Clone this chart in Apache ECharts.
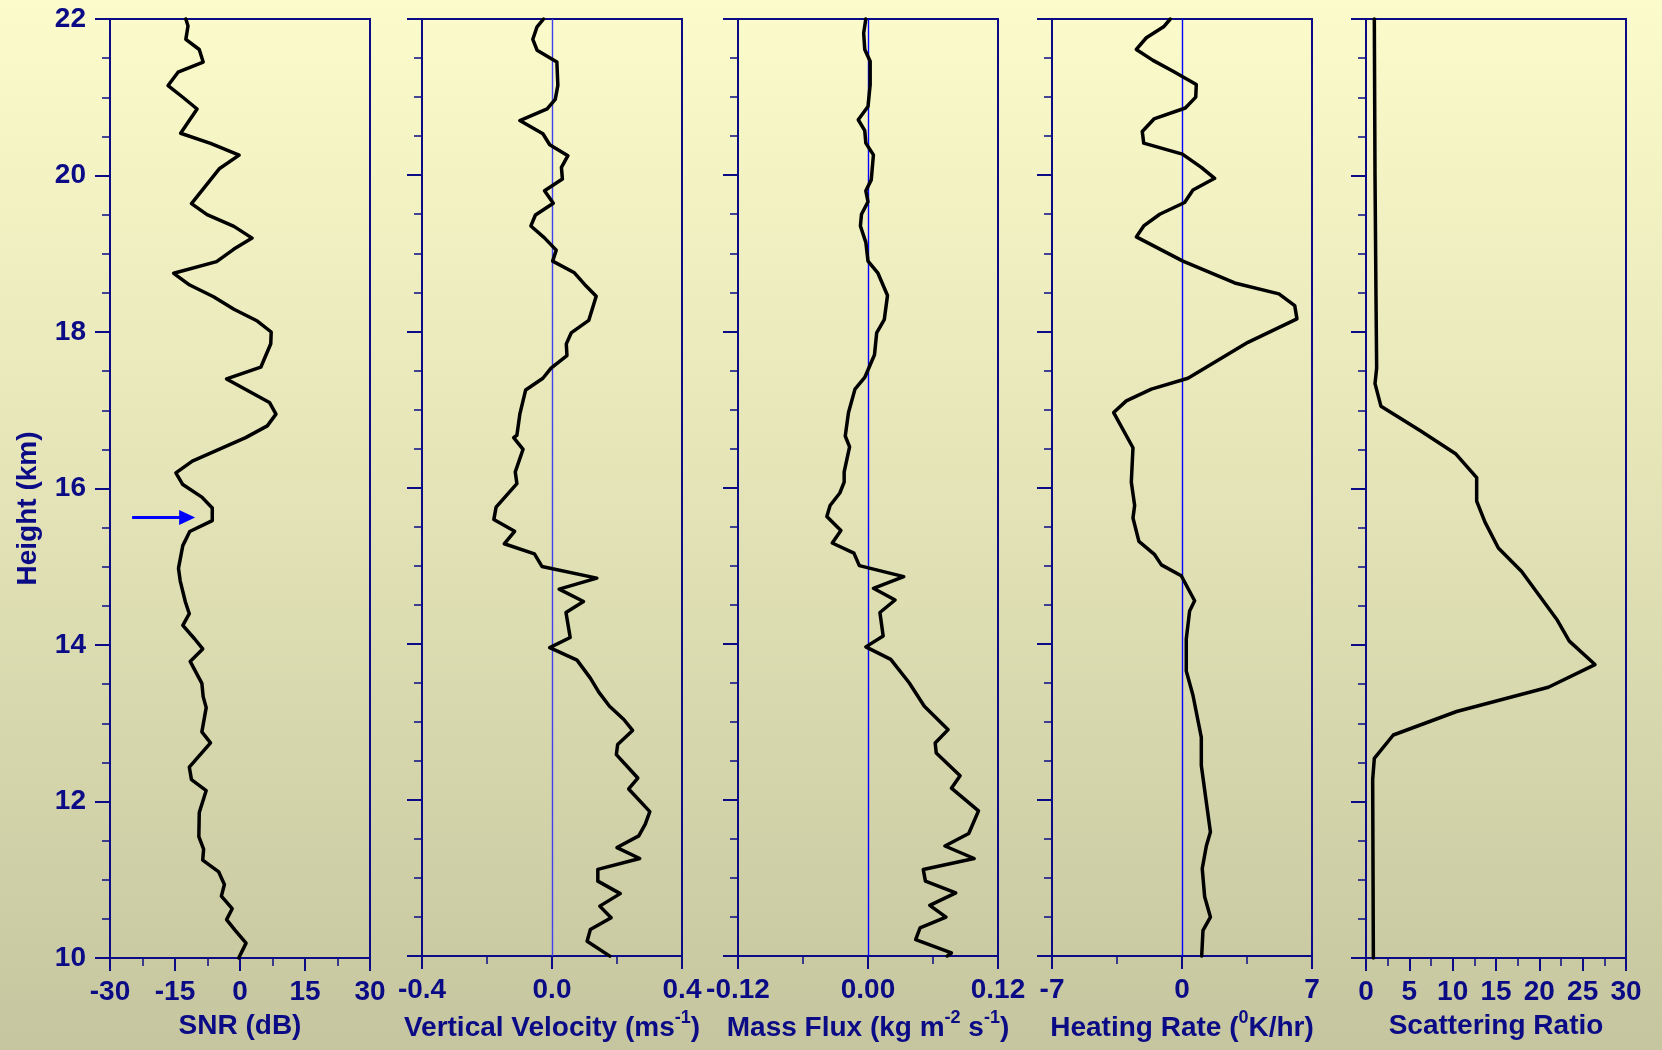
<!DOCTYPE html>
<html>
<head>
<meta charset="utf-8">
<script src="https://cdn.jsdelivr.net/npm/echarts@6/dist/echarts.min.js"></script>
<style>
  html, body { margin: 0; padding: 0; }
  #chart { width: 1662px; height: 1050px; }
</style>
</head>
<body>
<div id="chart"></div>
<script>
// Vertical profiles, 10-22 km

const snrHeight = [22.00,21.91,21.74,21.61,21.45,21.32,21.15,21.00,20.85,20.54,20.41,20.26,20.09,19.64,19.50,19.35,19.20,19.06,18.90,18.75,18.60,18.45,18.29,18.14,18.00,17.85,17.55,17.40,17.10,16.95,16.80,16.65,16.35,16.20,16.05,15.89,15.75,15.59,15.45,15.27,14.98,14.82,14.55,14.40,14.25,14.08,13.95,13.79,13.51,13.34,13.20,12.89,12.75,12.44,12.28,12.14,11.86,11.55,11.39,11.25,11.10,10.94,10.79,10.63,10.49,10.36,10.19,10.00];
const snrValue  = [-12.5,-12.0,-12.5,-9.4,-8.5,-14.3,-16.6,-13.2,-9.9,-13.7,-6.8,-0.2,-4.7,-11.2,-7.6,-1.4,2.8,-1.4,-5.4,-15.3,-11.6,-6.1,-1.4,4.0,7.2,7.1,4.8,-3.1,6.8,8.3,6.3,1.3,-11.0,-14.8,-13.2,-8.8,-6.4,-6.4,-11.6,-13.2,-14.2,-13.8,-12.6,-11.7,-13.2,-10.5,-8.6,-11.5,-8.8,-8.5,-7.8,-8.8,-6.8,-11.7,-11.2,-7.8,-9.4,-9.5,-8.4,-8.6,-4.9,-3.6,-4.3,-1.8,-3.1,-1.2,1.4,-0.3];

const vvHeight = [22.00,21.90,21.74,21.60,21.45,21.15,20.97,20.85,20.70,20.53,20.39,20.25,20.10,19.95,19.80,19.64,19.49,19.35,19.20,19.04,18.90,18.75,18.58,18.45,18.14,17.98,17.84,17.69,17.53,17.40,17.25,16.94,16.67,16.64,16.49,16.20,16.05,15.75,15.59,15.44,15.28,15.15,14.99,14.84,14.70,14.54,14.40,14.08,13.95,13.79,13.56,13.38,13.20,13.03,12.89,12.71,12.58,12.28,12.14,11.85,11.69,11.54,11.39,11.25,11.11,10.96,10.80,10.64,10.49,10.34,10.19,10.00];
const vvValue  = [-0.026,-0.046,-0.059,-0.046,0.015,0.018,0.010,-0.015,-0.099,-0.028,-0.007,0.049,0.029,0.032,-0.023,0.004,-0.051,-0.065,-0.024,0.013,0.002,0.069,0.105,0.136,0.113,0.059,0.044,0.046,-0.003,-0.028,-0.081,-0.099,-0.108,-0.118,-0.089,-0.113,-0.108,-0.172,-0.179,-0.115,-0.147,-0.054,-0.031,0.138,0.022,0.097,0.043,0.056,-0.007,0.077,0.118,0.144,0.177,0.221,0.248,0.202,0.198,0.264,0.236,0.301,0.287,0.267,0.200,0.270,0.141,0.141,0.210,0.147,0.182,0.118,0.108,0.178];

const mfHeight = [22.00,21.82,21.61,21.46,21.16,20.88,20.71,20.57,20.41,20.26,19.94,19.80,19.66,19.50,19.35,19.14,18.90,18.75,18.46,18.15,17.98,17.70,17.41,17.26,16.96,16.66,16.52,16.20,16.07,15.93,15.77,15.63,15.45,15.29,15.16,15.00,14.86,14.71,14.56,14.40,14.10,13.96,13.80,13.50,13.20,12.90,12.73,12.60,12.31,12.15,11.86,11.57,11.41,11.25,11.11,10.96,10.81,10.65,10.50,10.36,10.21,10.04,10.00];
const mfValue  = [-0.002,-0.004,-0.003,0.002,0.002,0.000,-0.009,-0.003,-0.002,0.005,0.003,-0.002,0.000,-0.006,-0.007,-0.002,0.000,0.009,0.018,0.015,0.008,0.006,-0.003,-0.012,-0.018,-0.021,-0.017,-0.022,-0.022,-0.026,-0.035,-0.038,-0.025,-0.033,-0.013,-0.008,0.033,0.005,0.025,0.011,0.014,-0.002,0.021,0.038,0.052,0.074,0.062,0.063,0.085,0.077,0.102,0.093,0.071,0.098,0.051,0.053,0.081,0.057,0.072,0.048,0.044,0.077,0.073];

const hrHeight = [22.00,21.90,21.76,21.61,21.47,21.33,21.16,21.00,20.86,20.72,20.56,20.41,20.27,20.10,19.96,19.81,19.65,19.50,19.35,19.21,18.90,18.62,18.48,18.33,18.16,17.86,17.40,17.26,17.11,16.96,16.51,16.07,15.77,15.61,15.31,15.14,15.01,14.87,14.55,14.42,14.06,13.65,13.34,12.80,12.44,11.59,11.41,11.12,10.76,10.50,10.33,10.00];
const hrValue  = [-0.63,-0.99,-1.92,-2.46,-1.56,-0.48,0.77,0.74,0.18,-1.51,-2.14,-2.06,0.02,1.04,1.76,0.59,0.14,-1.20,-2.06,-2.46,0.05,2.84,5.22,6.07,6.19,3.55,0.32,-1.65,-3.00,-3.68,-2.64,-2.73,-2.55,-2.64,-2.32,-1.47,-1.11,-0.04,0.68,0.41,0.23,0.23,0.59,1.04,1.04,1.53,1.31,1.09,1.22,1.53,1.13,1.06];

const srHeight = [22.00,20.00,18.48,17.54,17.34,17.05,16.74,16.44,16.14,15.84,15.57,15.24,14.94,14.33,14.05,13.75,13.46,13.15,12.85,12.55,12.28,10.00];
const srValue  = [0.96,1.04,1.15,1.23,1.04,1.73,6.23,10.38,12.77,12.77,13.73,15.27,17.96,22.0,23.46,26.42,21.04,10.46,3.15,0.96,0.77,0.85];

// Layer marked by the arrow in the SNR panel (shaft start and end, dB)
const layerArrow = { height: 15.63, fromSNR: -24.9, toSNR: -12.2 };

const NAVY = '#0b0b86';
const FONT = '"Liberation Sans", Arial, Helvetica, sans-serif';
const FS = 28;

const panelLeft = [110, 422, 738, 1052, 1366];
const panelWidth = 260;
const panelTop = 19;
const panelHeight = 939;

// n: normal text of an axis title, s: raised exponent
const rich = {
  n: { fontSize: FS, lineHeight: 38, fontWeight: 'bold', color: NAVY, fontFamily: FONT },
  s: { fontSize: 18, lineHeight: 18, fontWeight: 'bold', color: NAVY, fontFamily: FONT, verticalAlign: 'top', padding: [0, 0, 18, 0] }
};

const panels = [
  { name: '{n|SNR (dB)}', gap: 49, min: -30, max: 30, interval: 15, fmt: v => String(v),
    h: snrHeight, v: snrValue, zero: null },
  { name: '{n|Vertical Velocity (ms}{s|-1}{n|)}', gap: 47, min: -0.4, max: 0.4, interval: 0.4, fmt: v => v.toFixed(1),
    h: vvHeight, v: vvValue, zero: '#4040f0' },
  { name: '{n|Mass Flux (kg m}{s|-2}{n| s}{s|-1}{n|)}', gap: 47, min: -0.12, max: 0.12, interval: 0.12, fmt: v => v.toFixed(2),
    h: mfHeight, v: mfValue, zero: '#0000ff' },
  { name: '{n|Heating Rate (}{s|0}{n|K/hr)}', gap: 47, min: -7, max: 7, interval: 7, fmt: v => String(v),
    h: hrHeight, v: hrValue, zero: '#0000ff' },
  { name: '{n|Scattering Ratio}', gap: 49, min: 0, max: 30, interval: 5, fmt: v => String(v),
    h: srHeight, v: srValue, zero: null }
];

const grid = [], xAxis = [], yAxis = [], series = [];

panels.forEach((p, i) => {
  grid.push({
    left: panelLeft[i], top: panelTop, width: panelWidth, height: panelHeight,
    show: true, borderColor: NAVY, borderWidth: 2, backgroundColor: 'transparent'
  });
  xAxis.push({
    type: 'value', gridIndex: i, min: p.min, max: p.max, interval: p.interval,
    axisLine: { show: true, onZero: false, lineStyle: { color: NAVY, width: 2 } },
    axisTick: { show: true, length: 13, lineStyle: { color: NAVY, width: 2 } },
    minorTick: { show: true, splitNumber: 2, length: 8, lineStyle: { color: NAVY, width: 1.5 } },
    splitLine: { show: false },
    axisLabel: { show: true, margin: 20, color: NAVY, fontSize: FS, fontWeight: 'bold', fontFamily: FONT, formatter: p.fmt },
    name: p.name, nameLocation: 'middle', nameGap: p.gap,
    nameTextStyle: { rich: rich }
  });
  yAxis.push({
    type: 'value', gridIndex: i, min: 10, max: 22, interval: 2,
    axisLine: { show: true, onZero: false, lineStyle: { color: NAVY, width: 2 } },
    axisTick: { show: true, length: 15, lineStyle: { color: NAVY, width: 2 } },
    minorTick: { show: true, splitNumber: 4, length: 8, lineStyle: { color: NAVY, width: 1.5 } },
    splitLine: { show: false },
    axisLabel: { show: i === 0, margin: 24, color: NAVY, fontSize: FS, fontWeight: 'bold', fontFamily: FONT },
    name: i === 0 ? 'Height (km)' : '', nameLocation: 'middle', nameGap: 68,
    nameTextStyle: { color: NAVY, fontSize: FS, fontWeight: 'bold', fontFamily: FONT, padding: [0, 40, 0, 0] }
  });

  const s = {
    type: 'line', xAxisIndex: i, yAxisIndex: i,
    data: p.h.map((h, k) => [p.v[k], h]),
    symbol: 'none', clip: false, z: 5,
    lineStyle: { color: '#000', width: 3.5, join: 'round', cap: 'round' }
  };
  if (p.zero) {
    s.markLine = {
      silent: true, symbol: 'none', animation: false, z: 2,
      label: { show: false },
      lineStyle: { color: p.zero, width: 1.4, type: 'solid' },
      data: [{ xAxis: 0 }]
    };
  }
  if (i === 0) {
    s.markLine = {
      silent: true, animation: false, z: 6,
      symbol: ['none', 'triangle'], symbolSize: [15, 16],
      label: { show: false },
      lineStyle: { color: '#0000ff', width: 3, type: 'solid' },
      data: [[
        { coord: [layerArrow.fromSNR, layerArrow.height] },
        { coord: [layerArrow.toSNR, layerArrow.height] }
      ]]
    };
  }
  series.push(s);
});

const chart = echarts.init(document.getElementById('chart'), null, { renderer: 'canvas' });
chart.setOption({
  animation: false,
  backgroundColor: {
    type: 'linear', x: 0, y: 0, x2: 0, y2: 1,
    colorStops: [
      { offset: 0, color: '#fbfbcb' },
      { offset: 0.5, color: '#e2e2b6' },
      { offset: 1, color: '#c5c69f' }
    ]
  },
  grid: grid, xAxis: xAxis, yAxis: yAxis, series: series
});
</script>
</body>
</html>
